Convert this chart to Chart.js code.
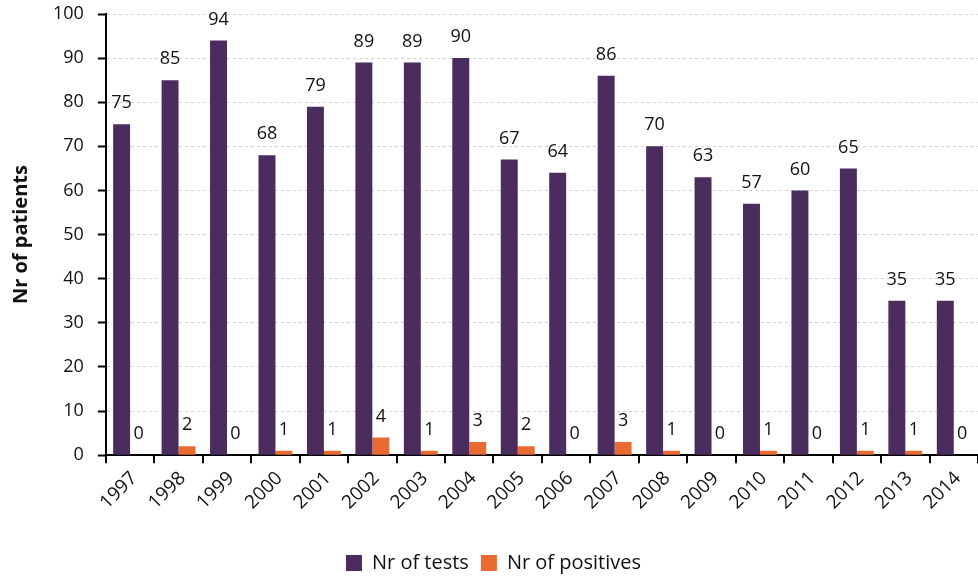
<!DOCTYPE html>
<html>
<head>
<meta charset="utf-8">
<script src="https://cdn.jsdelivr.net/npm/chart.js@4.4.1/dist/chart.umd.min.js"></script>
<style>
  html, body { margin: 0; padding: 0; background: #fff; }
  #wrap { width: 978px; height: 577px; }
</style>
</head>
<body>
<div id="wrap"><canvas id="chart"></canvas></div>
<script>
const years = ['1997', '1998', '1999', '2000', '2001', '2002', '2003', '2004', '2005',
    '2006', '2007', '2008', '2009', '2010', '2011', '2012', '2013', '2014'];
const nrOfTests = [75, 85, 94, 68, 79, 89, 89, 90, 67, 64, 86, 70, 63, 57, 60, 65, 35, 35];
const nrOfPositives = [0, 2, 0, 1, 1, 4, 1, 3, 2, 0, 3, 1, 0, 1, 0, 1, 1, 0];
const yTicks = [0, 10, 20, 30, 40, 50, 60, 70, 80, 90, 100];

const fontFamily = '"Open Sans", "Noto Sans", sans-serif';

// Writes each bar's value just above it
const valueLabels = {
    id: 'valueLabels',
    afterDatasetsDraw(chart) {
        const ctx = chart.ctx;
        ctx.save();
        ctx.font = '18px ' + fontFamily;
        ctx.fillStyle = '#111';
        ctx.textAlign = 'center';
        ctx.textBaseline = 'bottom';
        chart.data.datasets.forEach((ds, i) => {
            chart.getDatasetMeta(i).data.forEach((bar, j) => {
                ctx.fillText(ds.data[j], bar.x, bar.y - 12);
            });
        });
        ctx.restore();
    }
};

new Chart(document.getElementById('chart'), {
    type: 'bar',
    data: {
        labels: years,
        datasets: [
            {
                label: 'Nr of tests',
                data: nrOfTests,
                backgroundColor: '#4a2d5e',
            },
            {
                label: 'Nr of positives',
                data: nrOfPositives,
                backgroundColor: '#e96b32',
            },
        ],
    },
    options: {
        responsive: true,
        maintainAspectRatio: false,
        animation: false,
        layout: {
            padding: { top: 14, right: 0, bottom: -6, left: 9 },
        },
        datasets: {
            bar: { categoryPercentage: 0.7, barPercentage: 1.0 },
        },
        scales: {
            x: {
                grid: {
                    offset: true,
                    drawOnChartArea: false,
                    color: '#000',
                    tickColor: '#000',
                    tickLength: 8,
                    lineWidth: 2,
                },
                border: { color: '#000', width: 2 },
                ticks: {
                    color: '#111',
                    font: { size: 19, family: fontFamily },
                    minRotation: 45,
                    maxRotation: 45,
                    padding: 4,
                    labelOffset: 4,
                },
                afterFit(axis) {
                    axis.height += 23;
                },
            },
            y: {
                min: 0,
                max: 100,
                afterBuildTicks(axis) {
                    axis.ticks = yTicks.map((v) => ({ value: v }));
                },
                afterFit(axis) {
                    axis.paddingTop = 0;
                },
                grid: {
                    color: '#d2d2d2',
                    tickColor: '#000',
                    tickLength: 8,
                    tickBorderDash: [],
                    lineWidth: 1,
                    tickWidth: 2,
                },
                border: { color: '#000', width: 2, dash: [3, 3] },
                ticks: {
                    color: '#111',
                    font: { size: 18, family: fontFamily },
                    padding: 14,
                },
                title: {
                    display: true,
                    text: 'Nr of patients',
                    color: '#111',
                    font: { size: 20, weight: 'bold', family: fontFamily },
                    padding: { top: 0, bottom: 6 },
                },
            },
        },
        plugins: {
            legend: {
                position: 'bottom',
                labels: {
                    color: '#111',
                    font: { size: 20, family: fontFamily },
                    boxWidth: 16,
                    boxHeight: 16,
                    padding: 12,
                },
            },
            tooltip: { enabled: false },
        },
    },
    plugins: [valueLabels],
});
</script>
</body>
</html>
